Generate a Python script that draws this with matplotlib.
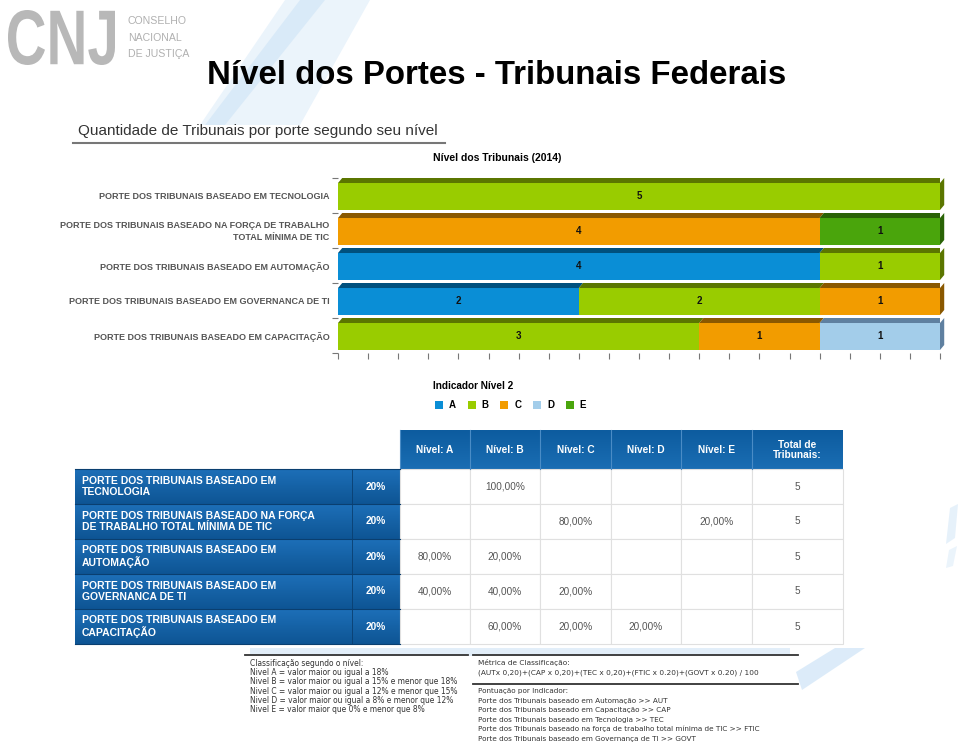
"""Nível dos Portes - Tribunais Federais (slide recreation)."""

import matplotlib
matplotlib.use("Agg")
import matplotlib.pyplot as plt
import numpy as np
from matplotlib import font_manager as fm
from matplotlib.font_manager import FontProperties
from matplotlib.patches import PathPatch, Polygon, Rectangle
from matplotlib.textpath import TextPath
from matplotlib.transforms import Affine2D

_names = {f.name for f in fm.fontManager.ttflist}
NARROW = "Liberation Sans Narrow" if "Liberation Sans Narrow" in _names else "Liberation Sans"
SANS = "Liberation Sans"

# ---- data -------------------------------------------------------------
chart_labels = [
    "PORTE DOS TRIBUNAIS BASEADO EM TECNOLOGIA",
    "PORTE DOS TRIBUNAIS BASEADO NA FORÇA DE TRABALHO\nTOTAL MÍNIMA DE TIC",
    "PORTE DOS TRIBUNAIS BASEADO EM AUTOMAÇÃO",
    "PORTE DOS TRIBUNAIS BASEADO EM GOVERNANCA DE TI",
    "PORTE DOS TRIBUNAIS BASEADO EM CAPACITAÇÃO",
]
table_labels = [
    "PORTE DOS TRIBUNAIS BASEADO EM\nTECNOLOGIA",
    "PORTE DOS TRIBUNAIS BASEADO NA FORÇA\nDE TRABALHO TOTAL MÍNIMA DE TIC",
    "PORTE DOS TRIBUNAIS BASEADO EM\nAUTOMAÇÃO",
    "PORTE DOS TRIBUNAIS BASEADO EM\nGOVERNANCA DE TI",
    "PORTE DOS TRIBUNAIS BASEADO EM\nCAPACITAÇÃO",
]
levels = ["A", "B", "C", "D", "E"]
nivel_a = [0, 0, 4, 2, 0]
nivel_b = [5, 0, 1, 2, 3]
nivel_c = [0, 4, 0, 1, 1]
nivel_d = [0, 0, 0, 0, 1]
nivel_e = [0, 1, 0, 0, 0]
weights = ["20%", "20%", "20%", "20%", "20%"]

level_colors = ["#0a8ed6", "#99cc00", "#f29c00", "#a3cdea", "#4aa50c"]
level_dark = ["#00507e", "#5b7600", "#8a5800", "#5f80a0", "#2a6306"]

counts = np.array([nivel_a, nivel_b, nivel_c, nivel_d, nivel_e])  # level x row
totals = counts.sum(axis=0)

W, H = 960, 748
fig = plt.figure(figsize=(W / 100, H / 100), dpi=100)
fig.patch.set_facecolor("white")

bg = fig.add_axes([0, 0, 1, 1])
bg.set_xlim(0, W)
bg.set_ylim(H, 0)
bg.axis("off")

# faint background swooshes
for pts, a in [
    ([(285, 0), (370, 0), (300, 125), (200, 125)], 0.2),
    ([(300, 0), (325, 0), (225, 125), (205, 125)], 0.22),
    ([(835, 648), (865, 648), (802, 690), (796, 672)], 0.35),
    ([(950, 508), (958, 504), (955, 538), (946, 544)], 0.25),
    ([(949, 550), (957, 546), (953, 566), (946, 568)], 0.2),
]:
    bg.add_patch(Polygon(pts, closed=True, facecolor="#9cc8ef", edgecolor="none", alpha=a))
bg.add_patch(Rectangle((250, 648), 540, 8, facecolor="#cfe3f5", edgecolor="none", alpha=0.6))

# logo: stretched "CNJ" letters
logo = TextPath((0, 0), "CNJ", size=1, prop=FontProperties(family=SANS, weight="bold"))
ext = logo.get_extents()
sx, sy = 107 / ext.width, 55 / ext.height
tr = Affine2D().translate(-ext.x0, -ext.y0).scale(sx, -sy).translate(8, 65)
bg.add_patch(PathPatch(tr.transform_path(logo), facecolor="#b8b8b8", edgecolor="none"))
for i, s in enumerate(["CONSELHO", "NACIONAL", "DE JUSTIÇA"]):
    bg.text(128, 21 + i * 16.5, s, fontsize=7.6, family=[NARROW, SANS], color="#b0b0b0",
            ha="left", va="center")

# title
bg.text(497, 75, "Nível dos Portes - Tribunais Federais", fontsize=23.8, fontweight="bold",
        family=SANS, ha="center", va="center", color="black")

# section header
bg.text(78, 131, "Quantidade de Tribunais por porte segundo seu nível", fontsize=11,
        family=SANS, ha="left", va="center", color="#333333")
bg.plot([73, 445], [143, 143], color="#777777", lw=1.5)

bg.text(497, 158, "Nível dos Tribunais (2014)", fontsize=7.5, fontweight="bold",
        family=[NARROW, SANS], ha="center", va="center", color="black")

# ---- bar chart --------------------------------------------------------
ax = fig.add_axes([338 / W, 1 - 353 / H, (940 - 338) / W, 175 / H])
n = len(chart_labels)
ax.set_xlim(0, 5)
ax.set_ylim(n - 0.5, -0.5)
front_top, front_bot, dx = -0.357, 0.414, 0.035
for i in range(n):
    left = 0
    vals = counts[:, i]
    nz = [k for k in range(len(levels)) if vals[k] > 0]
    for k in nz:
        w = vals[k]
        y0, y1 = i + front_top, i + front_bot
        ax.add_patch(Rectangle((left, y0), w, y1 - y0, facecolor=level_colors[k],
                               edgecolor="none", zorder=2))
        ax.add_patch(Polygon([(left, y0), (left + w, y0), (left + w + dx, i - 0.5),
                              (left + dx, i - 0.5)], closed=True,
                             facecolor=level_dark[k], edgecolor="none", zorder=2))
        ax.text(left + w / 2, (y0 + y1) / 2, f"{w}", ha="center", va="center",
                fontsize=7, fontweight="bold", family=[NARROW, SANS], color="#111111", zorder=3)
        if k == nz[-1]:
            ax.add_patch(Polygon([(left + w, y0), (left + w + dx, i - 0.5),
                                  (left + w + dx, y1 - 0.143), (left + w, y1)], closed=True,
                                 facecolor=level_dark[k], edgecolor="none", zorder=2,
                                 clip_on=False))
        left += w
for s in ax.spines.values():
    s.set_visible(False)
ax.set_xticks(np.arange(0, 5.01, 0.25))
ax.set_xticklabels([])
ax.set_yticks(np.arange(-0.5, n, 1.0))
ax.set_yticklabels([])
ax.tick_params(axis="both", length=4, color="#777777", width=0.8)
ax.patch.set_alpha(0)

for i, lab in enumerate(chart_labels):
    ax.text(-0.07, i + 0.03, lab, ha="right", va="center", fontsize=6.5, fontweight="bold",
            family=[NARROW, SANS], color="#555555", linespacing=1.3)

# legend
bg.text(433, 386, "Indicador Nível 2", fontsize=7.2, fontweight="bold",
        family=[NARROW, SANS], ha="left", va="center", color="black")
for k, lev in enumerate(levels):
    x = 435 + k * 32.7
    bg.add_patch(Rectangle((x, 401), 8, 8, facecolor=level_colors[k], edgecolor="none"))
    bg.text(x + 14, 405, lev, fontsize=7, fontweight="bold", family=[NARROW, SANS],
            ha="left", va="center", color="black")

# ---- table ------------------------------------------------------------
col_edges = [75, 352, 400, 470, 540, 611, 681, 752, 843]
head_top, row_top, row_h = 430, 469, 35
headers = ["Nível: A", "Nível: B", "Nível: C", "Nível: D", "Nível: E", "Total de\nTribunais:"]


def gradient(x0, x1, y0, y1, c_top, c_bot):
    top = np.array(matplotlib.colors.to_rgb(c_top))
    bot = np.array(matplotlib.colors.to_rgb(c_bot))
    t = np.linspace(0, 1, 32)[:, None, None]
    img = top * (1 - t) + bot * t
    bg.imshow(img, extent=(x0, x1, y1, y0), aspect="auto", zorder=1, interpolation="bilinear")


for j, htxt in enumerate(headers):
    x0, x1 = col_edges[j + 2], col_edges[j + 3]
    gradient(x0, x1, head_top, row_top, "#0d5c9f", "#1a6db3")
    bg.plot([x0, x0], [head_top, row_top], color="#4a8cc6", lw=0.8, zorder=2)
    bg.text((x0 + x1) / 2, (head_top + row_top) / 2, htxt, fontsize=7.3, fontweight="bold",
            family=SANS, color="white", ha="center", va="center", zorder=3, linespacing=1.0)

for i, lab in enumerate(table_labels):
    y0 = row_top + i * row_h
    y1 = y0 + row_h
    gradient(col_edges[0], col_edges[2], y0, y1, "#1d6fb7", "#0e5595")
    bg.plot([col_edges[0], col_edges[2]], [y0, y0], color="#0a3f70", lw=0.8, zorder=2)
    bg.plot([col_edges[1], col_edges[1]], [y0, y1], color="#0a3f70", lw=0.6, zorder=2)
    bg.text(col_edges[0] + 7, (y0 + y1) / 2, lab, fontsize=7.5, fontweight="bold",
            family=SANS, color="white", ha="left", va="center", zorder=3, linespacing=1.15)
    bg.text((col_edges[1] + col_edges[2]) / 2, (y0 + y1) / 2, weights[i], fontsize=7.3,
            fontweight="bold", family=SANS, color="white", ha="center", va="center", zorder=3)
    for k in range(len(levels)):
        x0, x1 = col_edges[k + 2], col_edges[k + 3]
        bg.add_patch(Rectangle((x0, y0), x1 - x0, row_h, facecolor="white",
                               edgecolor="#e0e0e0", lw=0.8, zorder=1))
        v = counts[k, i]
        if v > 0:
            pct = f"{v / totals[i] * 100:.2f}".replace(".", ",") + "%"
            bg.text((x0 + x1) / 2, (y0 + y1) / 2, pct, fontsize=7.2, family=SANS,
                    color="#555555", ha="center", va="center", zorder=3)
    x0, x1 = col_edges[-2], col_edges[-1]
    bg.add_patch(Rectangle((x0, y0), x1 - x0, row_h, facecolor="white",
                           edgecolor="#e0e0e0", lw=0.8, zorder=1))
    bg.text((x0 + x1) / 2, (y0 + y1) / 2, f"{totals[i]}", fontsize=7.2, family=SANS,
            color="#555555", ha="center", va="center", zorder=3)
bg.plot([col_edges[0], col_edges[2]], [row_top + n * row_h] * 2, color="#0a3f70", lw=0.8)

# ---- footnotes --------------------------------------------------------
class_lines = [
    "Classificação segundo o nível:",
    "Nivel A = valor maior ou igual a 18%",
    "Nivel B = valor maior ou igual a 15% e menor que 18%",
    "Nivel C = valor maior ou igual a 12% e menor que 15%",
    "Nivel D = valor maior ou igual a 8% e menor que 12%",
    "Nivel E = valor maior que 0% e menor que 8%",
]
metric_lines = [
    "Métrica de Classificação:",
    "(AUTx 0,20)+(CAP x 0,20)+(TEC x 0,20)+(FTIC x 0.20)+(GOVT x 0.20) / 100",
]
score_lines = [
    "Pontuação por Indicador:",
    "Porte dos Tribunais baseado em Automação >> AUT",
    "Porte dos Tribunais baseado em Capacitação >> CAP",
    "Porte dos Tribunais baseado em Tecnologia >> TEC",
    "Porte dos Tribunais baseado na força de trabalho total mínima de TIC >> FTIC",
    "Porte dos Tribunais baseado em Governança de TI >> GOVT",
]
bg.plot([245, 468], [655, 655], color="#333333", lw=1.3)
bg.plot([473, 798], [655, 655], color="#333333", lw=1.3)
bg.plot([473, 798], [684, 684], color="#333333", lw=1.3)
for i, s in enumerate(class_lines):
    bg.text(250, 663 + i * 9.4, s, fontsize=5.45, family="DejaVu Sans", color="#333333",
            ha="left", va="center")
for i, s in enumerate(metric_lines):
    bg.text(478, 663 + i * 10, s, fontsize=5.3, family="DejaVu Sans", color="#333333",
            ha="left", va="center")
for i, s in enumerate(score_lines):
    bg.text(478, 691.5 + i * 9.4, s, fontsize=5.25, family="DejaVu Sans", color="#333333",
            ha="left", va="center")

fig.savefig("out.png", dpi=100)
